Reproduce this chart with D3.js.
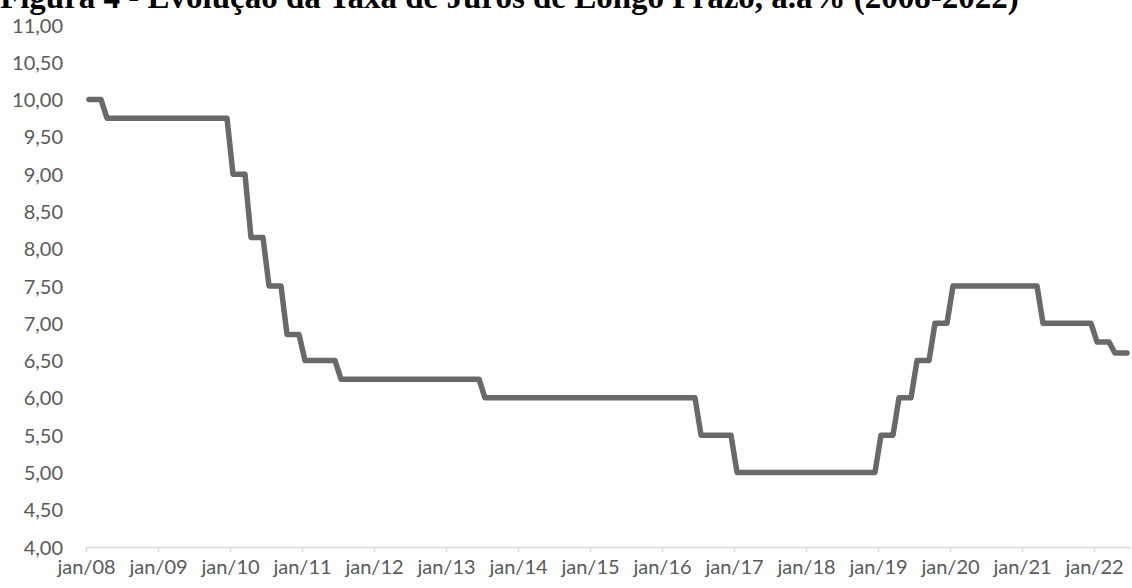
<!DOCTYPE html>
<html>
<head>
<meta charset="utf-8">
<script src="https://cdn.jsdelivr.net/npm/d3@7/dist/d3.min.js"></script>
<style>
  html, body { margin: 0; padding: 0; background: #fff; }
  svg { display: block; }
</style>
</head>
<body>
<svg id="chart" width="1132" height="588"></svg>
<script>
// TJLP, % a.a. — monthly values, Jan 2008 to Jun 2022 (one row per year)
const titleText = "Figura 4 - Evolução da Taxa de Juros de Longo Prazo, a.a% (2008-2022)";
const rate2008 = [10.00, 10.00, 10.00, 9.75, 9.75, 9.75, 9.75, 9.75, 9.75, 9.75, 9.75, 9.75];
const rate2009 = [9.75, 9.75, 9.75, 9.75, 9.75, 9.75, 9.75, 9.75, 9.75, 9.75, 9.75, 9.75];
const rate2010 = [9.00, 9.00, 9.00, 8.15, 8.15, 8.15, 7.50, 7.50, 7.50, 6.85, 6.85, 6.85];
const rate2011 = [6.50, 6.50, 6.50, 6.50, 6.50, 6.50, 6.25, 6.25, 6.25, 6.25, 6.25, 6.25];
const rate2012 = [6.25, 6.25, 6.25, 6.25, 6.25, 6.25, 6.25, 6.25, 6.25, 6.25, 6.25, 6.25];
const rate2013 = [6.25, 6.25, 6.25, 6.25, 6.25, 6.25, 6.00, 6.00, 6.00, 6.00, 6.00, 6.00];
const rate2014 = [6.00, 6.00, 6.00, 6.00, 6.00, 6.00, 6.00, 6.00, 6.00, 6.00, 6.00, 6.00];
const rate2015 = [6.00, 6.00, 6.00, 6.00, 6.00, 6.00, 6.00, 6.00, 6.00, 6.00, 6.00, 6.00];
const rate2016 = [6.00, 6.00, 6.00, 6.00, 6.00, 6.00, 5.50, 5.50, 5.50, 5.50, 5.50, 5.50];
const rate2017 = [5.00, 5.00, 5.00, 5.00, 5.00, 5.00, 5.00, 5.00, 5.00, 5.00, 5.00, 5.00];
const rate2018 = [5.00, 5.00, 5.00, 5.00, 5.00, 5.00, 5.00, 5.00, 5.00, 5.00, 5.00, 5.00];
const rate2019 = [5.50, 5.50, 5.50, 6.00, 6.00, 6.00, 6.50, 6.50, 6.50, 7.00, 7.00, 7.00];
const rate2020 = [7.50, 7.50, 7.50, 7.50, 7.50, 7.50, 7.50, 7.50, 7.50, 7.50, 7.50, 7.50];
const rate2021 = [7.50, 7.50, 7.50, 7.00, 7.00, 7.00, 7.00, 7.00, 7.00, 7.00, 7.00, 7.00];
const rate2022 = [6.75, 6.75, 6.75, 6.60, 6.60, 6.60];

const xTickLabels = ["jan/08", "jan/09", "jan/10", "jan/11", "jan/12", "jan/13", "jan/14",
                     "jan/15", "jan/16", "jan/17", "jan/18", "jan/19", "jan/20", "jan/21", "jan/22"];
const yTickValues = [4.0, 4.5, 5.0, 5.5, 6.0, 6.5, 7.0, 7.5, 8.0, 8.5, 9.0, 9.5, 10.0, 10.5, 11.0];

const rates = [].concat(rate2008, rate2009, rate2010, rate2011, rate2012, rate2013, rate2014,
  rate2015, rate2016, rate2017, rate2018, rate2019, rate2020, rate2021, rate2022);
const series = rates.map((v, i) => ({ month: i, value: v }));

const svg = d3.select("#chart");

// Plot geometry
const plotLeft = 86, plotRight = 1130, plotTop = 25, plotBottom = 547;

// Month index axis: each month occupies one slot, points sit in the slot centre
const x = d3.scaleLinear().domain([0, rates.length]).range([plotLeft, plotRight]);
const y = d3.scaleLinear().domain([4, 11]).range([plotBottom, plotTop]);

const fmt = v => d3.format(".2f")(v).replace(".", ",");

// Title, running off the top edge of the page
svg.append("text")
  .attr("x", 0)
  .attr("y", 8)
  .attr("font-family", "'Liberation Serif', 'Times New Roman', serif")
  .attr("font-weight", "bold")
  .attr("font-size", 33)
  .attr("fill", "#000")
  .text(titleText);

// Y axis labels (no axis line, no gridlines)
const yAxis = d3.axisLeft(y).tickValues(yTickValues).tickFormat(fmt).tickSize(0).tickPadding(0);
const yG = svg.append("g").attr("transform", `translate(63,0)`).call(yAxis);
yG.select(".domain").remove();
yG.selectAll("text")
  .attr("font-family", "Lato, 'Open Sans', sans-serif")
  .attr("font-size", 20)
  .attr("fill", "#595959")
  .attr("dy", "0.35em");

// X axis: ticks every 12 months
const tickMonths = xTickLabels.map((_, i) => i * 12);
const xAxis = d3.axisBottom(x)
  .tickValues(tickMonths)
  .tickFormat((d, i) => xTickLabels[i])
  .tickSize(5)
  .tickSizeOuter(0)
  .tickPadding(8);
const xG = svg.append("g").attr("transform", `translate(0,${plotBottom})`).call(xAxis);
xG.select(".domain").attr("stroke", "#d9d9d9").attr("stroke-width", 1.5);
xG.selectAll(".tick line").attr("stroke", "#d9d9d9").attr("stroke-width", 1.5);
xG.selectAll("text")
  .attr("font-family", "Lato, 'Open Sans', sans-serif")
  .attr("font-size", 20)
  .attr("fill", "#595959");

// Rate line
const line = d3.line()
  .x(d => x(d.month + 0.5))
  .y(d => y(d.value));

svg.append("path")
  .datum(series)
  .attr("d", line)
  .attr("fill", "none")
  .attr("stroke", "#696969")
  .attr("stroke-width", 5.5)
  .attr("stroke-linejoin", "round")
  .attr("stroke-linecap", "round");
</script>
</body>
</html>
